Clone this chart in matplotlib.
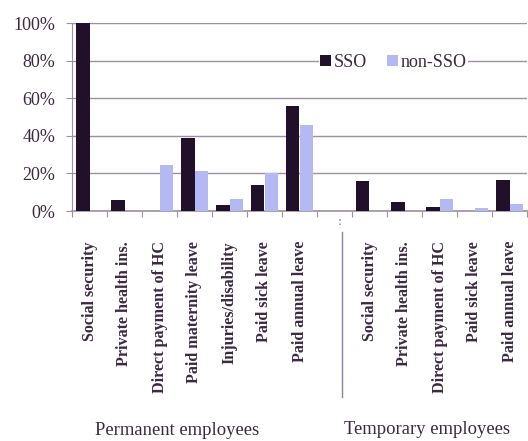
import numpy as np
import matplotlib
matplotlib.use("Agg")
import matplotlib.pyplot as plt
from matplotlib.ticker import PercentFormatter

# categories, with an empty slot between the two groups
categories = ["Social security", "Private health ins.", "Direct payment of HC",
              "Paid maternity leave", "Injuries/disability", "Paid sick leave",
              "Paid annual leave", "",
              "Social security", "Private health ins.", "Direct payment of HC",
              "Paid sick leave", "Paid annual leave"]
sso = [100, 6, 0, 39, 3.4, 14, 56, np.nan, 16, 5, 2, 0, 16.3]
non_sso = [0, 0, 24.5, 21.4, 6.2, 20.4, 46, np.nan, 0, 0, 6.5, 1.6, 3.7]
groups = ["Permanent employees", "Temporary employees"]

dark = "#21102a"
light = "#b5b9f3"
grid_col = "#9c90a4"
text_col = "#3a2a40"

plt.rcParams["font.family"] = ["Liberation Serif", "DejaVu Serif"]

fig = plt.figure(figsize=(5.28, 4.41), dpi=100)
ax = fig.add_axes([72 / 528, 1 - 211 / 441, 455 / 528, 188 / 441])

x = np.arange(len(categories))
w = 0.39
ax.bar(x - w / 2, sso, w, color=dark, label="SSO", zorder=3)
ax.bar(x + w / 2, non_sso, w, color=light, label="non-SSO", zorder=3)

ax.set_xlim(-0.5, len(categories) - 0.5)
ax.set_ylim(0, 100)
ax.set_yticks([0, 20, 40, 60, 80, 100])
ax.yaxis.set_major_formatter(PercentFormatter(decimals=0))
ax.grid(axis="y", color=grid_col, linewidth=1.0, zorder=0)
for s in ["top", "right"]:
    ax.spines[s].set_visible(False)
ax.spines["left"].set_color(grid_col)
ax.spines["bottom"].set_color(grid_col)
ax.spines["bottom"].set_linewidth(1.2)
ax.tick_params(axis="y", colors=grid_col, labelcolor=text_col, labelsize=13, length=4, pad=8)

# ticks at the slot boundaries, labels under each slot
ax.set_xticks(np.arange(len(categories) + 1) - 0.5)
ax.set_xticklabels([])
ax.tick_params(axis="x", colors=grid_col, length=4)
for i, c in enumerate(categories):
    if c:
        ax.text(i, -16, c, rotation=90, ha="center", va="top", fontsize=11.6,
                color=text_col, fontweight="bold", transform=ax.transData, clip_on=False)

# divider between groups
ax.plot([7.16, 7.16], [-4, -9], ls=":", color=grid_col, lw=1.2, clip_on=False)
ax.plot([7.2, 7.2], [-11, -99], color="#8a80a8", lw=1.0, clip_on=False)

ax.text(2.5, -117, groups[0], ha="center", va="center", fontsize=13.4, color=text_col)
ax.text(9.65, -116, groups[1], ha="center", va="center", fontsize=13.4, color=text_col)

leg = ax.legend(loc="center left", bbox_to_anchor=(0.522, 0.79), ncol=2, frameon=True,
                fontsize=13, handlelength=0.6, handleheight=0.6, handletextpad=0.15,
                columnspacing=1.1, borderpad=0.1, labelcolor=text_col)
leg.get_frame().set_edgecolor("none")
leg.get_frame().set_facecolor("white")
leg.get_frame().set_alpha(1)

fig.savefig("out.png", dpi=100)
